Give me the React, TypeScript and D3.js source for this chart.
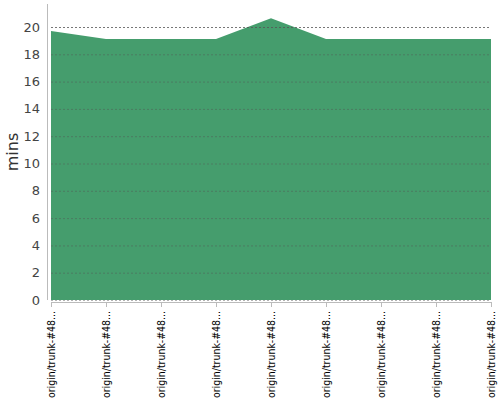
import React from "react";
import * as d3 from "d3";

const categories = [
  "origin/trunk-#48...",
  "origin/trunk-#48...",
  "origin/trunk-#48...",
  "origin/trunk-#48...",
  "origin/trunk-#48...",
  "origin/trunk-#48...",
  "origin/trunk-#48...",
  "origin/trunk-#48...",
  "origin/trunk-#48...",
];
const values = [19.7, 19.12, 19.12, 19.12, 20.65, 19.12, 19.12, 19.12, 19.12];
const yTicks = [0, 2, 4, 6, 8, 10, 12, 14, 16, 18, 20];

const W = 500;
const H = 400;
const left = 51;
const right = 491;
const top = 27;
const bottom = 300;

export default function App() {
  const x = d3
    .scalePoint<number>()
    .domain(categories.map((_, i) => i))
    .range([left, right]);
  const y = d3.scaleLinear().domain([0, 20]).range([bottom, top]);
  const area = d3
    .area<number>()
    .x((_, i) => x(i) as number)
    .y0(y(0))
    .y1((d) => y(d));
  return (
    <svg
      width={W}
      height={H}
      style={{ position: "absolute", left: 0, top: 0 }}
      fontFamily="DejaVu Sans"
    >
      <path d={area(values) || ""} fill="#459d6d" />
      {yTicks.map((t) => (
        <g key={t}>
          <line
            x1={left}
            x2={right}
            y1={y(t) + 0.5}
            y2={y(t) + 0.5}
            stroke="#555"
            strokeOpacity={t === 20 ? 0.8 : 0.45}
            strokeDasharray="2,2"
            strokeWidth={1}
          />
          <text
            x={40}
            y={y(t)}
            dy="0.35em"
            textAnchor="end"
            fontSize={13}
            fill="#444"
          >
            {t}
          </text>
        </g>
      ))}
      <line x1={47.5} x2={47.5} y1={4} y2={300} stroke="#bbb" />
      <line x1={left} x2={right} y1={302.5} y2={302.5} stroke="#bbb" />
      {categories.map((c, i) => (
        <g key={i} transform={`translate(${x(i)},0)`}>
          <line x1={0.5} x2={0.5} y1={302} y2={307} stroke="#bbb" />
          <text
            transform={`translate(4,311) rotate(-90)`}
            textAnchor="end"
            fontSize={10.5}
            textLength={87}
            lengthAdjust="spacingAndGlyphs"
            fill="#000"
          >
            {c}
          </text>
        </g>
      ))}
      <text
        transform="translate(18,152) rotate(-90)"
        textAnchor="middle"
        fontSize={16}
        fill="#333"
      >
        mins
      </text>
    </svg>
  );
}
